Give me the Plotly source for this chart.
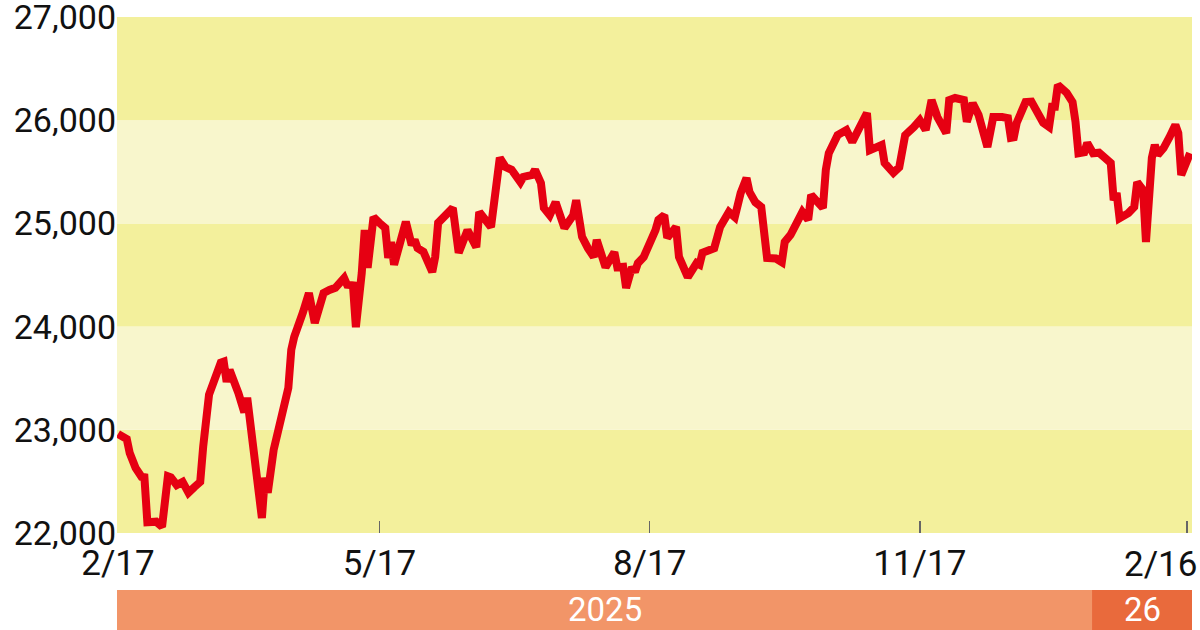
import plotly.graph_objects as go

dates = [
    "2025-02-17", "2025-02-20", "2025-02-21", "2025-02-23", "2025-02-25", "2025-02-26", "2025-02-27",
    "2025-03-02", "2025-03-04", "2025-03-06", "2025-03-07", "2025-03-09", "2025-03-11", "2025-03-13",
    "2025-03-15", "2025-03-17", "2025-03-18", "2025-03-20", "2025-03-24", "2025-03-25", "2025-03-26",
    "2025-03-27", "2025-03-30", "2025-04-01", "2025-04-02", "2025-04-07", "2025-04-08", "2025-04-09",
    "2025-04-11", "2025-04-15", "2025-04-16", "2025-04-17", "2025-04-18", "2025-04-21", "2025-04-23",
    "2025-04-25", "2025-04-28", "2025-04-30", "2025-05-02", "2025-05-05", "2025-05-06", "2025-05-08",
    "2025-05-09", "2025-05-11", "2025-05-12", "2025-05-13", "2025-05-15", "2025-05-17", "2025-05-19",
    "2025-05-20", "2025-05-21", "2025-05-22", "2025-05-24", "2025-05-26", "2025-05-28", "2025-05-29",
    "2025-05-30", "2025-06-01", "2025-06-04", "2025-06-05", "2025-06-06", "2025-06-08", "2025-06-11",
    "2025-06-13", "2025-06-16", "2025-06-19", "2025-06-20", "2025-06-24", "2025-06-25", "2025-06-27",
    "2025-06-29", "2025-07-01", "2025-07-04", "2025-07-05", "2025-07-08", "2025-07-09", "2025-07-11",
    "2025-07-12", "2025-07-14", "2025-07-16", "2025-07-19", "2025-07-21", "2025-07-22", "2025-07-23",
    "2025-07-25", "2025-07-27", "2025-07-29", "2025-07-30", "2025-08-02", "2025-08-05", "2025-08-06",
    "2025-08-08", "2025-08-09", "2025-08-11", "2025-08-12", "2025-08-13", "2025-08-15", "2025-08-19",
    "2025-08-20", "2025-08-22", "2025-08-23", "2025-08-26", "2025-08-27", "2025-08-30", "2025-09-02",
    "2025-09-03", "2025-09-04", "2025-09-08", "2025-09-10", "2025-09-13", "2025-09-15", "2025-09-17",
    "2025-09-19", "2025-09-20", "2025-09-22", "2025-09-24", "2025-09-25", "2025-09-26", "2025-09-29",
    "2025-10-01", "2025-10-02", "2025-10-04", "2025-10-08", "2025-10-10", "2025-10-11", "2025-10-15",
    "2025-10-16", "2025-10-17", "2025-10-20", "2025-10-22", "2025-10-23", "2025-10-25", "2025-10-27",
    "2025-10-28", "2025-10-30", "2025-10-31", "2025-11-02", "2025-11-04", "2025-11-05", "2025-11-08",
    "2025-11-10", "2025-11-12", "2025-11-15", "2025-11-17", "2025-11-19", "2025-11-21", "2025-11-23",
    "2025-11-26", "2025-11-27", "2025-11-29", "2025-12-02", "2025-12-03", "2025-12-05", "2025-12-07",
    "2025-12-10", "2025-12-12", "2025-12-15", "2025-12-17", "2025-12-18", "2025-12-19", "2025-12-20",
    "2025-12-23", "2025-12-25", "2025-12-27", "2025-12-29", "2025-12-31", "2026-01-01", "2026-01-02",
    "2026-01-03", "2026-01-06", "2026-01-08", "2026-01-09", "2026-01-10", "2026-01-12", "2026-01-13",
    "2026-01-15", "2026-01-17", "2026-01-19", "2026-01-21", "2026-01-22", "2026-01-23", "2026-01-24",
    "2026-01-27", "2026-01-29", "2026-01-30", "2026-02-01", "2026-02-02", "2026-02-04", "2026-02-05",
    "2026-02-06", "2026-02-08", "2026-02-10", "2026-02-12", "2026-02-13", "2026-02-14", "2026-02-17",
]

values = [
    22960, 22910, 22775, 22630, 22545, 22540, 22105,
    22110, 22060, 22550, 22540, 22465, 22495, 22390,
    22445, 22495, 22835, 23340, 23650, 23660, 23465,
    23580, 23355, 23170, 23310, 22145, 22535, 22390,
    22805, 23270, 23405, 23775, 23900, 24140, 24325,
    24035, 24325, 24355, 24375, 24470, 24405, 24400,
    23995, 24520, 24935, 24570, 25060, 25005, 24955,
    24665, 24820, 24600, 24820, 25015, 24790, 24840,
    24760, 24725, 24530, 24675, 25005, 25060, 25150,
    24715, 24935, 24770, 25110, 24965, 25205, 25635,
    25545, 25520, 25400, 25450, 25470, 25520, 25390,
    25150, 25080, 25205, 24955, 25050, 25080, 25225,
    24870, 24760, 24675, 24840, 24575, 24720, 24575,
    24580, 24375, 24575, 24530, 24615, 24675, 24935,
    25035, 25080, 24860, 24965, 24675, 24480, 24615,
    24600, 24715, 24760, 24965, 25110, 25060, 25295,
    25440, 25305, 25205, 25160, 24935, 24665, 24660,
    24625, 24820, 24890, 25110, 25035, 25275, 25150,
    25520, 25680, 25855, 25885, 25905, 25790, 25905,
    25975, 26070, 25710, 25740, 25760, 25585, 25490,
    25545, 25855, 25935, 26000, 25905, 26195, 26030,
    25875, 26195, 26215, 26195, 25985, 26165, 26050,
    25740, 26030, 26030, 26020, 25830, 25835, 25975,
    26175, 26180, 26070, 25975, 25935, 26130, 26130,
    26340, 26265, 26175, 25985, 25680, 25690, 25780,
    25680, 25685, 25635, 25585, 25225, 25295, 25050,
    25100, 25160, 25400, 25325, 24820, 25635, 25760,
    25665, 25730, 25835, 25955, 25875, 25470, 25680,
]

x_tick_dates = ["2025-02-17", "2025-05-17", "2025-08-17", "2025-11-17", "2026-02-16"]
x_tick_labels = ["2/17", "5/17", "8/17", "11/17", "2/16"]
y_ticks = [22000, 23000, 24000, 25000, 26000, 27000]
y_tick_labels = ["22,000", "23,000", "24,000", "25,000", "26,000", "27,000"]
year_labels = ["2025", "26"]

FONT = "Roboto, Liberation Sans, sans-serif"
DARK_BAND = "#f3f09c"
LIGHT_BAND = "#f8f6cc"
TEXT_COLOR = "#111111"

fig = go.Figure()
fig.add_trace(go.Scatter(
    x=dates, y=values, mode="lines",
    line=dict(color="#e60012", width=8, shape="linear"),
    hoverinfo="skip", showlegend=False,
))

shapes = []
for i in range(len(y_ticks) - 1):
    shapes.append(dict(
        type="rect", xref="paper", yref="y", x0=0, x1=1,
        y0=y_ticks[i], y1=y_ticks[i + 1],
        fillcolor=DARK_BAND if i % 2 == 0 else LIGHT_BAND,
        line=dict(width=0), layer="below",
    ))
# year bar below the plot
split = 0.907
shapes.append(dict(type="rect", xref="paper", yref="paper", x0=0, x1=split,
                   y0=-0.19, y1=-0.1105, fillcolor="#f29568", line=dict(width=0)))
shapes.append(dict(type="rect", xref="paper", yref="paper", x0=split, x1=1,
                   y0=-0.19, y1=-0.1105, fillcolor="#e96a3c", line=dict(width=0)))

annotations = [
    dict(x=split / 2, y=-0.148, xref="paper", yref="paper", text=year_labels[0],
         showarrow=False, font=dict(family=FONT, size=33, color="white"),
         xanchor="center", yanchor="middle"),
    dict(x=(split + 1) / 2, y=-0.148, xref="paper", yref="paper", text=year_labels[1],
         showarrow=False, font=dict(family=FONT, size=33, color="white"),
         xanchor="center", yanchor="middle"),
    # last date label sits flush against the right edge, as in the original
    dict(x=x_tick_dates[-1], xref="x", y=0, yref="paper", yshift=-9,
         text=x_tick_labels[-1], showarrow=False,
         font=dict(family=FONT, size=35, color=TEXT_COLOR),
         xanchor="right", xshift=12, yanchor="top"),
]

axis_labels = x_tick_labels[:-1] + [""]

fig.update_layout(
    template="none",
    width=1200, height=630,
    margin=dict(l=117, r=8, t=17, b=97, autoexpand=False),
    paper_bgcolor="white", plot_bgcolor="white",
    shapes=shapes, annotations=annotations,
    showlegend=False,
    xaxis=dict(
        type="date", automargin=False,
        range=["2025-02-16 16:00", "2026-02-17 16:00"],
        tickmode="array", tickvals=x_tick_dates, ticktext=axis_labels,
        ticks="inside", ticklen=12, tickwidth=1.5, tickcolor="#666666",
        showgrid=False, zeroline=False, showline=False,
        ticklabeloverflow="allow", ticklabelstandoff=6,
        tickfont=dict(family=FONT, size=35, color=TEXT_COLOR),
    ),
    yaxis=dict(
        automargin=False,
        range=[22000, 27000],
        tickmode="array", tickvals=y_ticks, ticktext=y_tick_labels,
        showgrid=False, zeroline=False, showline=False, ticks="",
        ticklabeloverflow="allow",
        tickfont=dict(family=FONT, size=34, color=TEXT_COLOR),
    ),
)

fig.write_html(
    "out.html",
    config={"displayModeBar": False, "staticPlot": True},
    post_script="document.body.style.margin='0';document.body.style.padding='0';"
                "document.body.style.overflow='hidden';",
)
